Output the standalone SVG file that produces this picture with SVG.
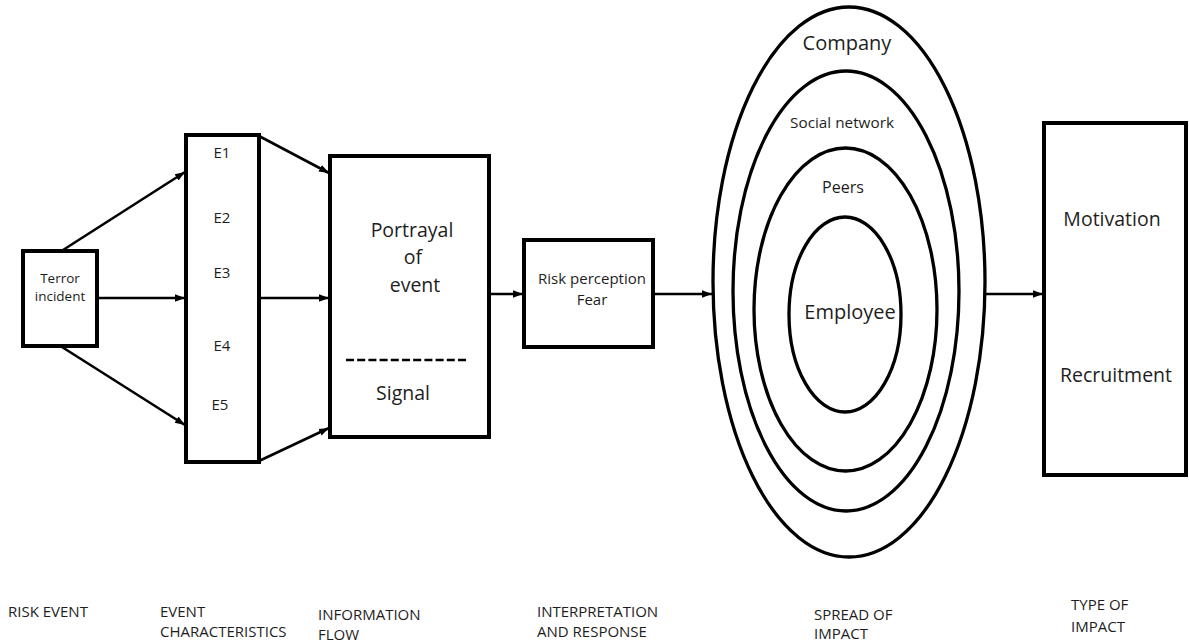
<svg xmlns="http://www.w3.org/2000/svg" width="1189" height="643" viewBox="0 0 1189 643">
  <defs>
    <marker id="arrow" markerUnits="userSpaceOnUse" markerWidth="11" markerHeight="9" refX="10" refY="4.5" orient="auto">
      <path d="M0,0.8 L10,4.5 L0,8.2 z" fill="#000"/>
    </marker>
    <style>
      .box { fill: #fff; stroke: #000; stroke-width: 4; }
      .ring { fill: none; stroke: #000; stroke-width: 3.3; }
      .link { fill: none; stroke: #000; stroke-width: 2.6; marker-end: url(#arrow); }
      text { font-family: "Open Sans", "Noto Sans", sans-serif; fill: #1e1e1e; }
      .mid { text-anchor: middle; }
      .ev { font-size: 15px; }
      .stage { font-size: 15px; }
    </style>
  </defs>
  <rect width="1189" height="643" fill="#fff"/>

  <!-- connectors -->
  <g id="connectors">
    <line class="link" x1="63" y1="250" x2="185" y2="172"/>
    <line class="link" x1="97" y1="298" x2="185" y2="298"/>
    <line class="link" x1="62" y1="347" x2="185" y2="425"/>
    <line class="link" x1="259" y1="136" x2="329" y2="173"/>
    <line class="link" x1="259" y1="298" x2="329" y2="298"/>
    <line class="link" x1="259" y1="461" x2="329" y2="428"/>
    <line class="link" x1="489" y1="294" x2="523" y2="294"/>
    <line class="link" x1="653" y1="294" x2="712" y2="294"/>
    <line class="link" x1="985" y1="294" x2="1043" y2="294"/>
  </g>

  <!-- risk event -->
  <g id="terror-incident">
    <rect class="box" x="23" y="251" width="74" height="95"/>
    <text class="mid" x="60" y="283" font-size="13.5">Terror</text>
    <text class="mid" x="60" y="301" font-size="13.5">incident</text>
  </g>

  <!-- event characteristics -->
  <g id="event-characteristics">
    <rect class="box" x="186" y="135" width="73" height="327"/>
    <text class="mid ev" x="222" y="158">E1</text>
    <text class="mid ev" x="222" y="223">E2</text>
    <text class="mid ev" x="222" y="278">E3</text>
    <text class="mid ev" x="222" y="351">E4</text>
    <text class="mid ev" x="220" y="410">E5</text>
  </g>

  <!-- information flow -->
  <g id="portrayal">
    <rect class="box" x="330" y="156" width="159" height="281"/>
    <text class="mid" x="412" y="237" font-size="19.5">Portrayal</text>
    <text class="mid" x="413" y="264" font-size="19.5">of</text>
    <text class="mid" x="415" y="292" font-size="19.5">event</text>
    <line x1="346" y1="360" x2="469" y2="360" stroke="#000" stroke-width="2.5" stroke-dasharray="8 3.2"/>
    <text class="mid" x="403" y="400" font-size="19.5">Signal</text>
  </g>

  <!-- interpretation and response -->
  <g id="risk-perception">
    <rect class="box" x="524" y="240" width="129" height="107"/>
    <text class="mid" x="592" y="284" font-size="15">Risk perception</text>
    <text class="mid" x="592" y="305" font-size="15">Fear</text>
  </g>

  <!-- spread of impact -->
  <g id="company">
    <ellipse class="ring" cx="849" cy="282" rx="136" ry="275"/>
    <text class="mid" x="847" y="50" font-size="20">Company</text>
  </g>
  <g id="social-network">
    <ellipse class="ring" cx="846" cy="291" rx="113" ry="220"/>
    <text class="mid" x="842" y="128" font-size="15.3">Social network</text>
  </g>
  <g id="peers">
    <ellipse class="ring" cx="845.5" cy="309.5" rx="91.5" ry="161.5"/>
    <text class="mid" x="843" y="193" font-size="16">Peers</text>
  </g>
  <g id="employee">
    <ellipse class="ring" cx="845" cy="314.5" rx="56" ry="97.5"/>
    <text class="mid" x="850" y="319" font-size="20">Employee</text>
  </g>

  <!-- type of impact -->
  <g id="type-of-impact">
    <rect class="box" x="1044" y="123" width="142" height="352"/>
    <text class="mid" x="1112" y="226" font-size="19.5">Motivation</text>
    <text class="mid" x="1116" y="382" font-size="19.5">Recruitment</text>
  </g>

  <!-- stage captions -->
  <g id="stage-labels" class="stage">
    <text x="8" y="617">RISK EVENT</text>
    <text x="160" y="617">EVENT</text>
    <text x="160" y="637">CHARACTERISTICS</text>
    <text x="318" y="620">INFORMATION</text>
    <text x="318" y="640">FLOW</text>
    <text x="537" y="617">INTERPRETATION</text>
    <text x="537" y="637">AND RESPONSE</text>
    <text x="814" y="620">SPREAD OF</text>
    <text x="814" y="639">IMPACT</text>
    <text x="1071" y="610">TYPE OF</text>
    <text x="1071" y="632">IMPACT</text>
  </g>
</svg>
